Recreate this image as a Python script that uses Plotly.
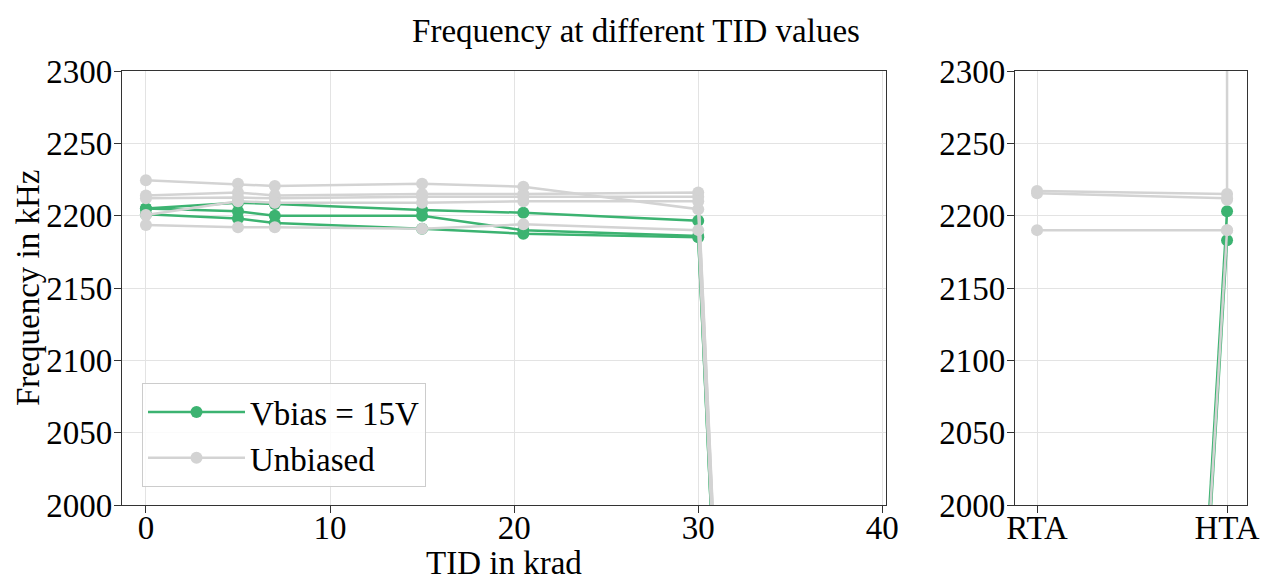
import plotly.graph_objects as go

# ---------------- data ----------------
tid_krad = [0, 5, 7, 15, 20.5, 30, 38]

biased_1 = [2205, 2209, 2208, 2204, 2202, 2196.5, 0]
biased_2 = [2205, 2203, 2200, 2200, 2190, 2186, 0]
biased_3 = [2201, 2198, 2195, 2191, 2187.5, 2185, 0]

unbiased_1 = [2224.5, 2222, 2220.5, 2222, 2220, 2204.5, 0]
unbiased_2 = [2214, 2216, 2214, 2215, 2215, 2216, 0]
unbiased_3 = [2212, 2212.5, 2212, 2213, 2213, 2213, 0]
unbiased_4 = [2200.5, 2210, 2209, 2209, 2210, 2210, 0]
unbiased_5 = [2193.5, 2192, 2192, 2191, 2194, 2190, 0]

anneal_steps = ["RTA", "HTA"]
biased_anneal_1 = [0, 2183]
biased_anneal_2 = [0, 2203]
unbiased_anneal_1 = [2217, 2215]
unbiased_anneal_2 = [2215.5, 2212]
unbiased_anneal_3 = [2190, 2190]
unbiased_anneal_4 = [0, 2190]
unbiased_hta_steps = ["HTA", "HTA"]
unbiased_hta_extra = [2211, 2600]

y_ticks = [2000, 2050, 2100, 2150, 2200, 2250, 2300]
x_ticks = [0, 10, 20, 30, 40]

GREEN = "#3cb371"
GRAY = "#d3d3d3"
FONT = "Liberation Serif"
FS = 33

# page body has an 8 px margin: figure occupies the window minus that offset
W, H, OFF = 1262, 573, 8
def px(x):
    return (x - OFF) / W
def py(y):
    return 1 - (y - OFF) / H

fig = go.Figure()

def add(x, y, color, name, show, xaxis="x", yaxis="y"):
    fig.add_trace(go.Scatter(
        x=x, y=y, mode="lines+markers", name=name, legendgroup=name,
        showlegend=show, line=dict(color=color, width=2.5),
        marker=dict(color=color, size=12), xaxis=xaxis, yaxis=yaxis))

for i, s in enumerate([biased_1, biased_2, biased_3]):
    add(tid_krad, s, GREEN, "Vbias = 15V", i == 0)
for s in [unbiased_1, unbiased_2, unbiased_3, unbiased_4, unbiased_5]:
    add(tid_krad, s, GRAY, "Unbiased", s is unbiased_1)

for s in [biased_anneal_1, biased_anneal_2]:
    add(anneal_steps, s, GREEN, "Vbias = 15V", False, "x2", "y2")
for s in [unbiased_anneal_1, unbiased_anneal_2, unbiased_anneal_3, unbiased_anneal_4]:
    add(anneal_steps, s, GRAY, "Unbiased", False, "x2", "y2")
add(unbiased_hta_steps, unbiased_hta_extra, GRAY, "Unbiased", False, "x2", "y2")

axis_common = dict(
    showline=True, mirror=True, linecolor="#333333", linewidth=1.3,
    ticks="outside", ticklen=7, tickcolor="#333333", tickwidth=1.3,
    showgrid=True, gridcolor="#e3e3e3", gridwidth=1, zeroline=False,
    tickfont=dict(family=FONT, size=FS, color="black"), automargin=False,
)

ydom = [py(505), py(71)]

fig.update_layout(
    width=W, height=H,
    margin=dict(l=0, r=0, t=0, b=0, autoexpand=False),
    paper_bgcolor="white", plot_bgcolor="white",
    font=dict(family=FONT, size=FS, color="black"),
    title=dict(text="Frequency at different TID values", x=px(636), xanchor="center",
               y=py(30), yanchor="middle", automargin=False,
               font=dict(family=FONT, size=FS, color="black")),
    xaxis=dict(axis_common, domain=[px(122), px(886)], range=[-1.3, 40.2],
               tickvals=x_ticks, ticklabelstandoff=-14),
    yaxis=dict(axis_common, domain=ydom, range=[2000, 2300], tickvals=y_ticks,
               ticklabelstandoff=-5),
    xaxis2=dict(axis_common, domain=[px(1015), px(1247)], type="category",
                categoryorder="array", categoryarray=anneal_steps,
                range=[-0.116, 1.105], anchor="y2", ticklabelstandoff=-14),
    yaxis2=dict(axis_common, domain=ydom, range=[2000, 2300], tickvals=y_ticks, anchor="x2",
                ticklabelstandoff=-5),
    legend=dict(x=px(142), y=py(383), xanchor="left", yanchor="top",
                bgcolor="rgba(255,255,255,0.85)", bordercolor="#cccccc", borderwidth=1,
                font=dict(family=FONT, size=FS), itemwidth=97, tracegroupgap=0),
    showlegend=True,
    annotations=[
        dict(text="TID in krad", xref="paper", yref="paper",
             x=px(504), y=py(563), xanchor="center", yanchor="middle",
             showarrow=False, font=dict(family=FONT, size=FS, color="black")),
        dict(text="Frequency in kHz", xref="paper", yref="paper", textangle=-90,
             x=px(28), y=py(288), xanchor="center", yanchor="middle",
             showarrow=False, font=dict(family=FONT, size=FS, color="black")),
    ],
)

fig.write_html("out.html")
